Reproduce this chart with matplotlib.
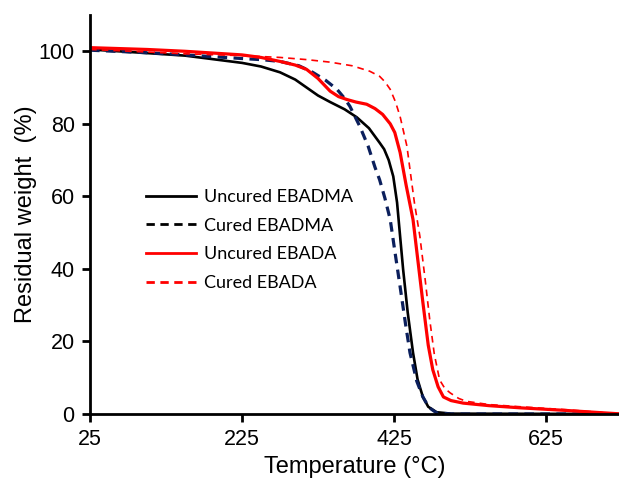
import matplotlib
matplotlib.use("Agg")
import matplotlib.pyplot as plt
from matplotlib.lines import Line2D

# Data
t_unc_ebadma = [25, 100, 150, 225, 250, 275, 295, 310, 325, 341, 360, 376, 392, 406, 412, 418, 424, 429, 433, 437, 443, 450, 456, 463, 470, 481, 500, 725]
w_unc_ebadma = [100.5, 99.5, 98.8, 96.8, 95.8, 94.2, 92.2, 90, 87.8, 86, 84, 81.8, 78.8, 74.8, 73, 70, 65.5, 58.3, 49, 39.8, 28, 16.9, 9.5, 4.7, 2.0, 0.5, 0.1, 0]

t_cur_ebadma = [25, 100, 150, 225, 250, 275, 300, 318, 335, 350, 360, 367, 380, 391, 400, 406, 413, 420, 426, 433, 440, 446, 455, 463, 471, 481, 500, 725]
w_cur_ebadma = [100.3, 99.6, 99, 98, 97.7, 97.2, 96, 94.2, 92, 89.5, 87, 84.8, 79.3, 73.8, 68, 64.6, 59.5, 53.6, 45, 35.1, 25, 16.9, 9, 4.7, 1.8, 0.3, 0, 0]

t_unc_ebada = [25, 100, 150, 225, 250, 275, 295, 310, 325, 341, 352, 363, 375, 389, 400, 410, 420, 426, 433, 441, 450, 456, 463, 470, 476, 483, 490, 500, 516, 550, 591, 650, 725]
w_unc_ebada = [101, 100.5, 100, 99, 98.3, 97.2, 96.2, 95, 92.5, 89, 87.5, 86.7, 86.0, 85.4, 84.2, 82.6, 80, 77.6, 72.1, 63, 53.6, 43, 30.7, 19, 12.2, 7.5, 4.7, 3.7, 3.0, 2.3, 1.7, 1.0, 0]

t_cur_ebada = [25, 100, 150, 225, 275, 310, 341, 370, 393, 406, 413, 420, 427, 433, 442, 446, 452, 459, 466, 472, 478, 485, 492, 499, 510, 520, 550, 591, 650, 725]
w_cur_ebada = [100.5, 99.8, 99.3, 98.8, 98.3, 97.7, 97, 96, 94.5, 93.1, 91.6, 89.5, 86, 82, 73.8, 67.4, 58, 49, 37, 26, 16.5, 9.4, 7, 5.8, 4.3, 3.5, 2.6, 2, 1.2, 0]

labels = ["Uncured EBADMA", "Cured EBADMA", "Uncured EBADA", "Cured EBADA"]
x_ticks = [25, 225, 425, 625]
y_ticks = [0, 20, 40, 60, 80, 100]

plt.rcParams['font.family'] = ['Liberation Sans', 'DejaVu Sans']

fig = plt.figure(figsize=(6.19, 4.86), dpi=100)
ax = fig.add_axes([90/619, 72/486, 1 - 90/619, (414-15)/486])

ax.plot(t_unc_ebadma, w_unc_ebadma, color='black', lw=1.9, solid_joinstyle='round')
ax.plot(t_cur_ebadma, w_cur_ebadma, color='#0b1f5c', lw=2.3, ls=(0, (3, 2)))
ax.plot(t_unc_ebada, w_unc_ebada, color='#ff0000', lw=2.3, solid_joinstyle='round')
ax.plot(t_cur_ebada, w_cur_ebada, color='#ff0000', lw=1.2, ls=(0, (4, 3)))

ax.set_xlim(25, 721)
ax.set_ylim(0, 110)
ax.set_xticks(x_ticks)
ax.set_yticks(y_ticks)
ax.tick_params(axis='both', labelsize=15.5, width=2, length=6, direction='out', pad=5)
for s in ['top', 'right']:
    ax.spines[s].set_visible(False)
for s in ['left', 'bottom']:
    ax.spines[s].set_linewidth(2)
ax.set_xlabel("Temperature (°C)", fontsize=17, labelpad=4)
ax.set_ylabel("Residual weight  (%)", fontsize=17, labelpad=1)

handles = [
    Line2D([], [], color='black', lw=2),
    Line2D([], [], color='black', lw=2, ls=(0, (3, 2))),
    Line2D([], [], color='#ff0000', lw=2),
    Line2D([], [], color='#ff0000', lw=2, ls=(0, (3, 2))),
]
leg = ax.legend(handles, labels, loc='upper left', bbox_to_anchor=(0.075, 0.605),
                frameon=False, handlelength=2.75, handletextpad=0.45, labelspacing=0.71,
                prop={'family': ['Lato', 'DejaVu Sans'], 'size': 13})

fig.savefig("out.png", dpi=100)
